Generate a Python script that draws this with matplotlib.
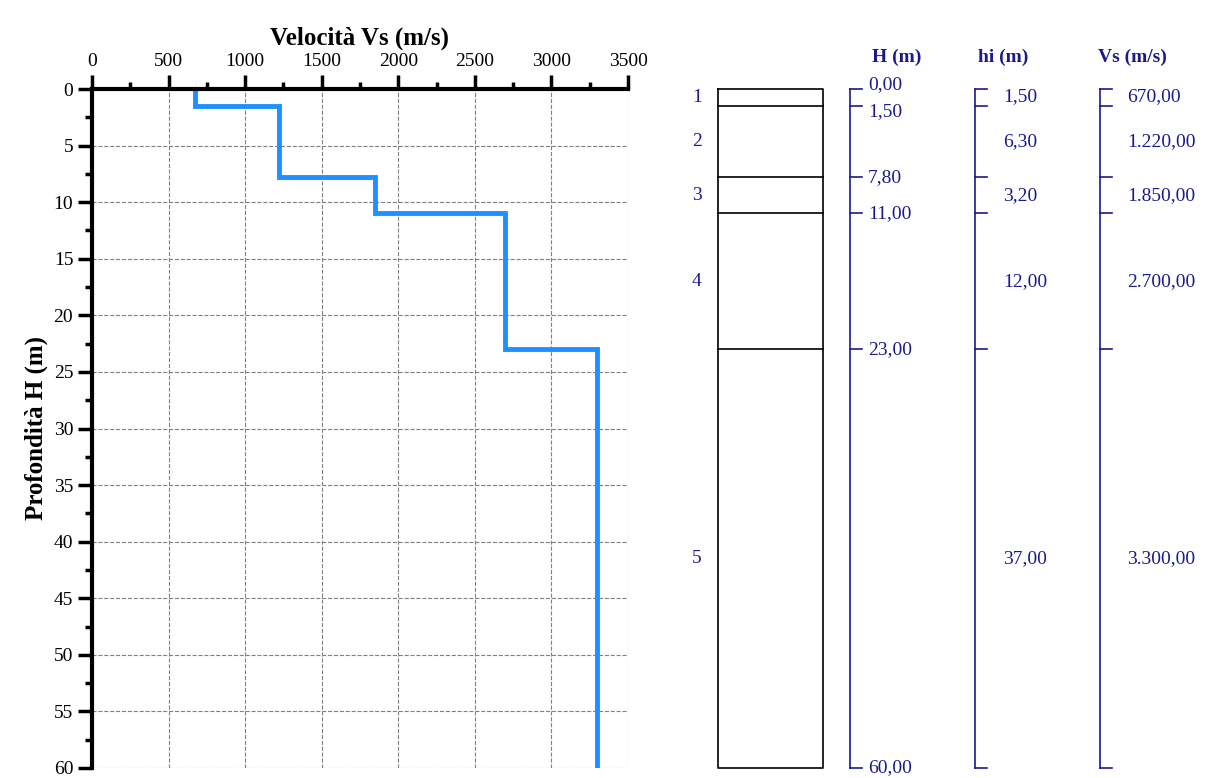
import matplotlib.pyplot as plt
import numpy as np

plt.rcParams['font.family'] = ['Liberation Serif', 'DejaVu Serif']

# layer data
tops = [0.0, 1.5, 7.8, 11.0, 23.0]
bottoms = [1.5, 7.8, 11.0, 23.0, 60.0]
vs = [670, 1220, 1850, 2700, 3300]
hi = [1.5, 6.3, 3.2, 12.0, 37.0]
layer_num = [1, 2, 3, 4, 5]
H_labels = ['0,00', '1,50', '7,80', '11,00', '23,00', '60,00']
hi_labels = ['1,50', '6,30', '3,20', '12,00', '37,00']
vs_labels = ['670,00', '1.220,00', '1.850,00', '2.700,00', '3.300,00']

W, Hpx = 1219, 778
fig = plt.figure(figsize=(W / 100, Hpx / 100), dpi=100)

# left profile
ax = fig.add_axes([92 / W, 1 - 768 / Hpx, (628 - 92) / W, (768 - 89) / Hpx])
xs, ys = [], []
for t, b, v in zip(tops, bottoms, vs):
    xs += [v, v]
    ys += [t, b]
ax.plot(xs, ys, color='#1e90ff', lw=3.5, solid_joinstyle='miter')
ax.set_xlim(0, 3500)
ax.set_ylim(60, 0)
ax.xaxis.tick_top()
ax.xaxis.set_label_position('top')
ax.set_xticks(np.arange(0, 3501, 500))
ax.set_xticks(np.arange(0, 3501, 250), minor=True)
ax.set_yticks(np.arange(0, 61, 5))
ax.set_yticks(np.arange(0, 61, 2.5), minor=True)
ax.tick_params(which='major', length=10, width=2.5, labelsize=14)
ax.tick_params(which='minor', length=5, width=2.5)
ax.grid(True, which='major', ls='--', color='#808080', lw=0.8)
for s in ['right', 'bottom']:
    ax.spines[s].set_visible(False)
ax.spines['top'].set_linewidth(3)
ax.spines['left'].set_linewidth(3)
ax.set_xlabel('Velocità Vs (m/s)', fontsize=18, fontweight='bold', labelpad=6)
ax.set_ylabel('Profondità H (m)', fontsize=18, fontweight='bold')

# right stratigraphic column (x in pixel units)
ax2 = fig.add_axes([0, 1 - 768 / Hpx, 1, (768 - 89) / Hpx])
ax2.set_xlim(0, W)
ax2.set_ylim(60, 0)
ax2.axis('off')
navy = '#1a1a8c'
ax2.plot([718, 823, 823, 718, 718], [0, 0, 60, 60, 0], color='black', lw=1.2, clip_on=False)
for t in tops[1:]:
    ax2.plot([718, 823], [t, t], color='black', lw=1.2)
bounds = tops + [60.0]
for xc in [850, 975, 1100]:
    ax2.plot([xc, xc], [0, 60], color=navy, lw=1.2, clip_on=False)
    for d in bounds:
        ax2.plot([xc, xc + 12], [d, d], color=navy, lw=1.2, clip_on=False)
fs = 14
for i, (lab, d) in enumerate(zip(H_labels, bounds)):
    dy = -0.4 if i == 0 else (0.5 if i == 1 else 0)
    ax2.text(868, d + dy, lab, color=navy, fontsize=fs, va='center', clip_on=False)
for i, (t, b) in enumerate(zip(tops, bottoms)):
    mid = (t + b) / 2
    yy = 0.7 if i == 0 else mid
    ax2.text(697, mid, str(layer_num[i]), color=navy, fontsize=fs, va='center', ha='center')
    ax2.text(1003, yy, hi_labels[i], color=navy, fontsize=fs, va='center')
    ax2.text(1127, yy, vs_labels[i], color=navy, fontsize=fs, va='center')
for xc, lab in [(872, 'H (m)'), (978, 'hi (m)'), (1098, 'Vs (m/s)')]:
    ax2.text(xc, -2.8, lab, color=navy, fontsize=14, fontweight='bold', va='center', clip_on=False)

fig.savefig('out.png', dpi=100)
